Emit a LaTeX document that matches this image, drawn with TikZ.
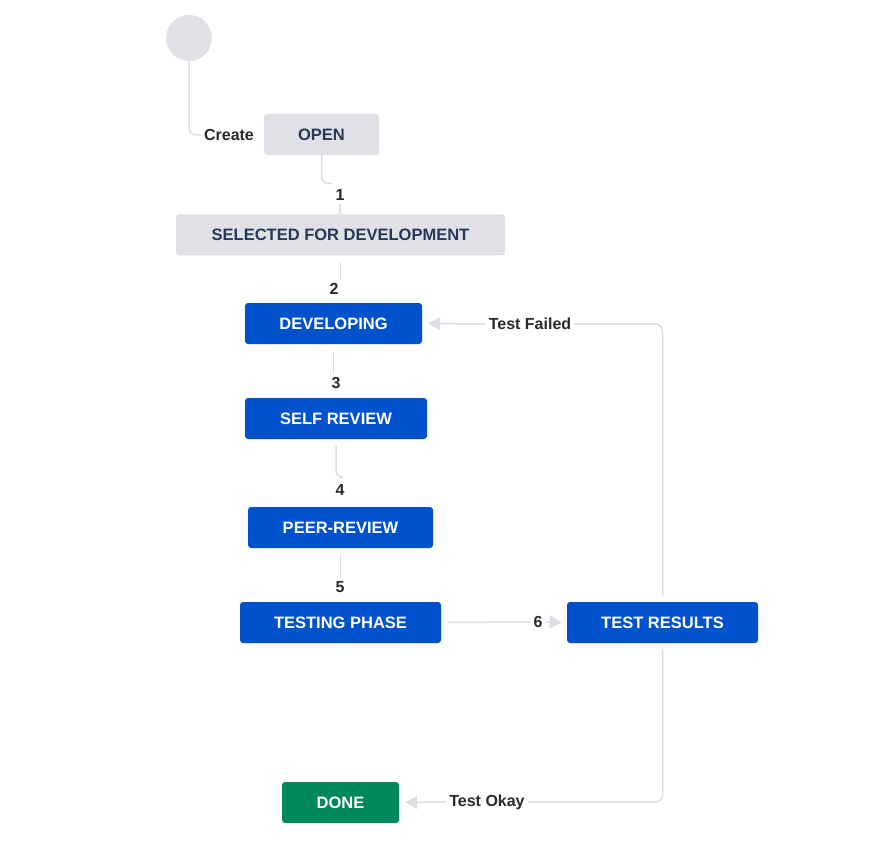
\documentclass[tikz,border=0pt]{standalone}
\usepackage{fontspec}
\setmainfont{Liberation Sans}
\usetikzlibrary{arrows.meta}
\definecolor{boxgray}{HTML}{DFE1E6}
\definecolor{graytext}{HTML}{253858}
\definecolor{jirablue}{HTML}{0052CC}
\definecolor{jiragreen}{HTML}{00875A}
\definecolor{linegray}{HTML}{DCDEE4}
\definecolor{lbltext}{HTML}{292929}
\tikzset{
  status/.style={rounded corners=3pt,inner sep=0pt,minimum height=41pt,
    font=\fontsize{16.5}{19}\selectfont\bfseries},
  todo/.style={status,fill=boxgray,text=graytext},
  doing/.style={status,fill=jirablue,text=white},
  done/.style={status,fill=jiragreen,text=white},
  lbl/.style={inner sep=3pt,text=lbltext,font=\fontsize{16}{19}\selectfont\bfseries},
  conn/.style={draw=linegray,line width=1.5pt,rounded corners=7pt},
  tip/.style={conn,-{Triangle[length=12pt,width=13pt]}}
}
\begin{document}
\begin{tikzpicture}[x=1pt,y=-1pt]
\useasboundingbox (0,0) rectangle (892,853);
% start point
\node[circle,fill=boxgray,minimum size=46pt,inner sep=0pt] (start) at (189,38) {};
% statuses
\node[todo,minimum width=115pt]  (open)     at (321.5,134.5) {OPEN};
\node[todo,minimum width=329pt]  (selected) at (340.5,235)   {SELECTED FOR DEVELOPMENT};
\node[doing,minimum width=177pt] (developing) at (333.5,323.5) {DEVELOPING};
\node[doing,minimum width=182pt] (selfrev)  at (336,418.5)   {SELF REVIEW};
\node[doing,minimum width=185pt] (peerrev)  at (340.5,527.5) {PEER-REVIEW};
\node[doing,minimum width=201pt] (testing)  at (340.5,622.5) {TESTING PHASE};
\node[doing,minimum width=191pt] (results)  at (662.5,622.5) {TEST RESULTS};
\node[done,minimum width=117pt]  (finished) at (340.5,802.5) {DONE};
% transition labels
\node[lbl] (create) at (229,135) {Create};
\node[lbl] (one)    at (340,195) {1};
\node[lbl] (two)    at (334,289) {2};
\node[lbl] (three)  at (336,383) {3};
\node[lbl] (four)   at (340,490) {4};
\node[lbl] (five)   at (340,587) {5};
\node[lbl] (six)    at (538,622) {6};
\node[lbl] (failed) at (530,324) {Test Failed};
\node[lbl] (okay)   at (487,802) {Test Okay};
% transitions
\draw[conn] (start) |- (create.west);
\draw[conn] (open.south) |- ([yshift=3pt]one.north west);
\draw[conn] (one.south) -- (one.south |- selected.north);
\draw[conn,shorten <=6pt] (selected.south) -- (selected.south |- two.north);
\draw[conn,shorten <=7pt] (developing.south) -- (developing.south |- three.north);
\draw[conn,shorten <=6pt] (selfrev.south) |- ([yshift=4pt]four.north);
\draw[conn,shorten <=7pt] (peerrev.south) -- (peerrev.south |- five.north);
\draw[conn,shorten <=7pt] (testing.east) -- (six.west);
\draw[tip,shorten >=5pt] (six.east) -- (results.west);
\draw[conn,shorten <=6pt] (results.north) |- (failed.east);
\draw[tip,shorten >=6pt] (failed.west) -- (developing.east);
\draw[conn,shorten <=6pt] (results.south) |- (okay.east);
\draw[tip,shorten >=6pt] (okay.west) -- (finished.east);
\end{tikzpicture}
\end{document}
